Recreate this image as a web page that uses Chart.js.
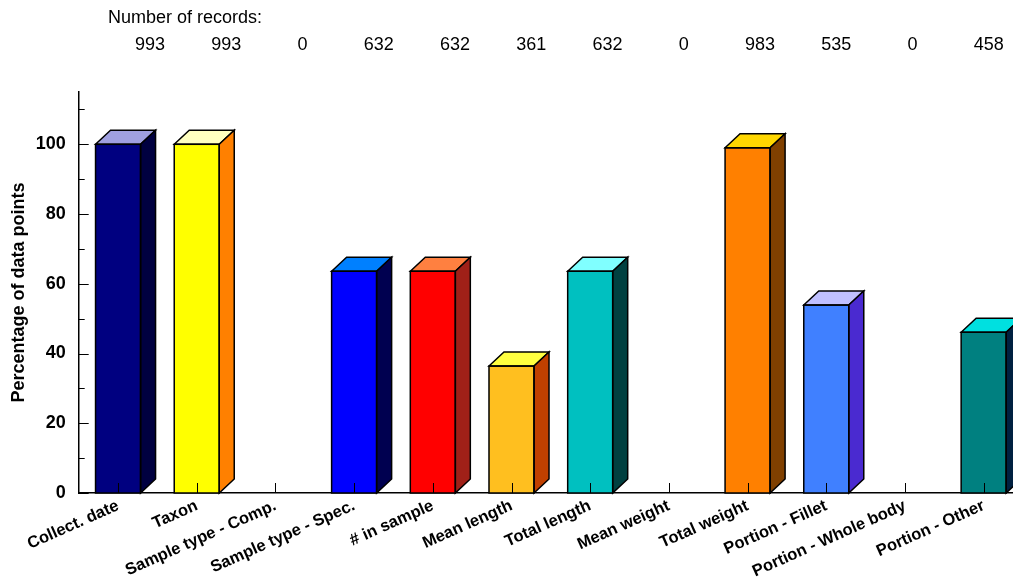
<!DOCTYPE html>
<html>
<head>
<meta charset="utf-8">
<title>Percentage of data points</title>
<script src="https://cdn.jsdelivr.net/npm/chart.js@4/dist/chart.umd.min.js"></script>
<style>
    html, body { margin: 0; padding: 0; background: #fff; overflow: hidden; }
    #wrap { width: 1013px; height: 584px; overflow: hidden; }
</style>
</head>
<body>
<div id="wrap"><canvas id="chart" width="1023" height="584"></canvas></div>
<script>
// Chart data
const categories = [
    'Collect. date', 'Taxon', 'Sample type - Comp.', 'Sample type - Spec.',
    '# in sample', 'Mean length', 'Total length', 'Mean weight',
    'Total weight', 'Portion - Fillet', 'Portion - Whole body', 'Portion - Other'
];
const recordCounts = [993, 993, 0, 632, 632, 361, 632, 0, 983, 535, 0, 458];
const percentValues = [100, 100, 0, 63.6, 63.6, 36.4, 63.6, 0, 99.0, 53.9, 0, 46.1];
const yTickValues = [0, 20, 40, 60, 80, 100];

// Bar colours: front, top, side
const frontColors = ['#000080', '#ffff00', '#000000', '#0000ff', '#ff0000', '#ffbf1f',
                     '#00c0c0', '#000000', '#ff8000', '#4080ff', '#000000', '#008080'];
const topColors   = ['#a0a0e0', '#ffffc0', '#000000', '#0080ff', '#ff8040', '#ffff40',
                     '#80ffff', '#000000', '#ffd700', '#c0c0ff', '#000000', '#00e0e0'];
const sideColors  = ['#000040', '#ff8000', '#000000', '#000050', '#a02018', '#c04000',
                     '#004040', '#000000', '#804000', '#4a2ad0', '#000000', '#002040'];

const FONT = '"Liberation Sans", Arial, sans-serif';
const DEPTH_X = 15, DEPTH_Y = 14;

// Draws the top and side faces of each bar
const bar3d = {
    id: 'bar3d',
    afterDatasetsDraw(chart) {
        const ctx = chart.ctx;
        const meta = chart.getDatasetMeta(0);
        ctx.save();
        ctx.lineWidth = 1.5;
        ctx.strokeStyle = '#000';
        ctx.lineJoin = 'miter';
        meta.data.forEach((bar, i) => {
            if (!percentValues[i]) return;
            const p = bar.getProps(['x', 'y', 'base', 'width'], true);
            const l = p.x - p.width / 2, r = p.x + p.width / 2;
            // top face
            ctx.beginPath();
            ctx.moveTo(l, p.y);
            ctx.lineTo(l + DEPTH_X, p.y - DEPTH_Y);
            ctx.lineTo(r + DEPTH_X, p.y - DEPTH_Y);
            ctx.lineTo(r, p.y);
            ctx.closePath();
            ctx.fillStyle = topColors[i];
            ctx.fill();
            ctx.stroke();
            // side face
            ctx.beginPath();
            ctx.moveTo(r, p.y);
            ctx.lineTo(r + DEPTH_X, p.y - DEPTH_Y);
            ctx.lineTo(r + DEPTH_X, p.base - DEPTH_Y);
            ctx.lineTo(r, p.base);
            ctx.closePath();
            ctx.fillStyle = sideColors[i];
            ctx.fill();
            ctx.stroke();
            // front outline
            ctx.strokeRect(l, p.y, p.width, p.base - p.y);
        });
        ctx.restore();
    },
    afterDraw(chart) {
        const ctx = chart.ctx;
        const xs = chart.scales.x, ys = chart.scales.y;
        const area = chart.chartArea;
        ctx.save();
        ctx.strokeStyle = '#000';
        ctx.lineWidth = 1;
        // inward ticks on the y axis
        for (let v = 0; v <= 110; v += 10) {
            const y = Math.round(ys.getPixelForValue(v)) + 0.5;
            ctx.beginPath();
            ctx.moveTo(area.left, y);
            ctx.lineTo(area.left + (v % 20 === 0 ? 10 : 6), y);
            ctx.stroke();
        }
        // inward ticks on the x axis
        categories.forEach((c, i) => {
            const x = Math.round(xs.getPixelForValue(i)) + 0.5;
            ctx.beginPath();
            ctx.moveTo(x, area.bottom);
            ctx.lineTo(x, area.bottom - 10);
            ctx.stroke();
        });
        // record counts above the plot
        ctx.fillStyle = '#000';
        ctx.font = '18px ' + FONT;
        ctx.textBaseline = 'middle';
        ctx.textAlign = 'left';
        ctx.fillText('Number of records:', 108, 18);
        ctx.textAlign = 'center';
        const x0 = xs.getPixelForValue(0);
        recordCounts.forEach((n, i) => {
            const x = 150 + (xs.getPixelForValue(i) - x0) * 0.969;
            ctx.fillText(String(n), x, 45);
        });
        ctx.restore();
    }
};

new Chart(document.getElementById('chart'), {
    type: 'bar',
    data: {
        labels: categories,
        datasets: [{
            data: percentValues,
            backgroundColor: frontColors,
            borderWidth: 0,
            categoryPercentage: 1,
            barPercentage: 0.572
        }]
    },
    options: {
        responsive: false,
        animation: false,
        layout: { padding: { top: 92, left: 0, right: 0, bottom: 0 } },
        plugins: {
            legend: { display: false },
            tooltip: { enabled: false }
        },
        scales: {
            x: {
                grid: { display: false, drawTicks: false },
                border: { color: '#000', width: 1.5 },
                afterFit: s => { s.height = 91; },
                ticks: {
                    color: '#000',
                    font: { family: FONT, size: 16.5, weight: 'bold' },
                    minRotation: 24,
                    maxRotation: 24,
                    autoSkip: false,
                    padding: 3
                }
            },
            y: {
                min: 0,
                max: 115,
                grid: { display: false, drawTicks: false },
                border: { color: '#000', width: 1.5 },
                afterFit: s => { s.width = 78.7; },
                afterBuildTicks: s => { s.ticks = yTickValues.map(v => ({ value: v })); },
                ticks: {
                    color: '#000',
                    font: { family: FONT, size: 18, weight: 'bold' },
                    padding: 13
                },
                title: {
                    display: true,
                    text: 'Percentage of data points',
                    color: '#000',
                    font: { family: FONT, size: 18, weight: 'bold' },
                    padding: { top: 8, bottom: 0 }
                }
            }
        }
    },
    plugins: [bar3d]
});
</script>
</body>
</html>
